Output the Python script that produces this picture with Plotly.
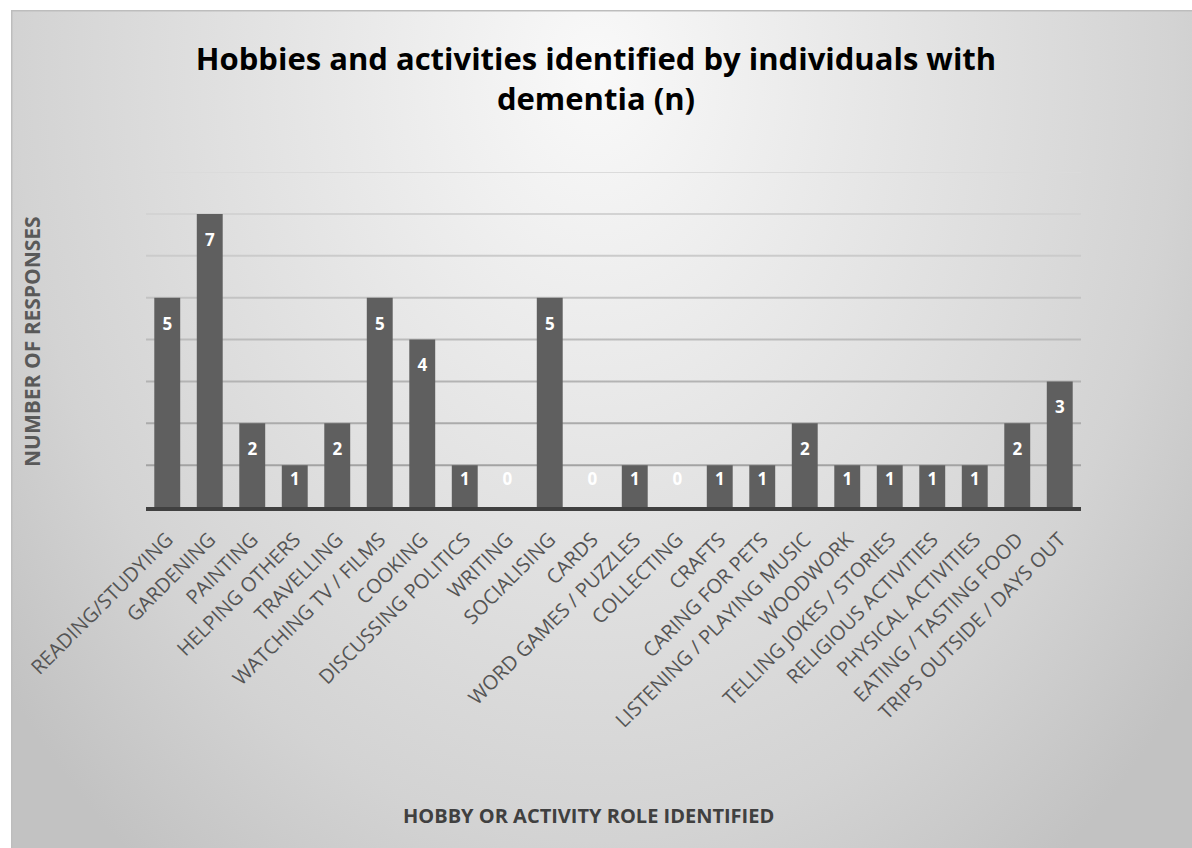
import base64
import plotly.graph_objects as go

# Hobby / activity categories and number of responses
categories = [
    "READING/STUDYING", "GARDENING", "PAINTING", "HELPING OTHERS", "TRAVELLING",
    "WATCHING TV / FILMS", "COOKING", "DISCUSSING POLITICS", "WRITING", "SOCIALISING",
    "CARDS", "WORD GAMES / PUZZLES", "COLLECTING", "CRAFTS", "CARING FOR PETS",
    "LISTENING / PLAYING MUSIC", "WOODWORK", "TELLING JOKES / STORIES",
    "RELIGIOUS ACTIVITIES", "PHYSICAL ACTIVITIES", "EATING / TASTING FOOD",
    "TRIPS OUTSIDE / DAYS OUT",
]
responses = [5, 7, 2, 1, 2, 5, 4, 1, 0, 5, 0, 1, 0, 1, 1, 2, 1, 1, 1, 1, 2, 3]
grid_levels = [1, 2, 3, 4, 5, 6, 7, 8]

W, H = 1192, 848
ML, MR, MT, MB = 146, 111, 172, 341
PW, PH = W - ML - MR, H - MT - MB

FONT = "Open Sans"
BAR = "#5f5f5f"

# soft radial grey background for the chart card
svg = f"""<svg xmlns='http://www.w3.org/2000/svg' width='{W-11}' height='{H-10}'>
<defs><radialGradient id='g' gradientUnits='userSpaceOnUse' cx='585' cy='60' r='1000'
gradientTransform='translate(585 60) scale(0.75 1) translate(-585 -60)'>
<stop offset='0' stop-color='#f9f9f9'/><stop offset='0.3' stop-color='#eaeaea'/>
<stop offset='0.77' stop-color='#d3d3d3'/><stop offset='1' stop-color='#c2c2c2'/>
</radialGradient></defs>
<rect x='0' y='0' width='{W-11}' height='{H-10}' fill='url(#g)'/>
<line x1='0.75' y1='0' x2='0.75' y2='{H-10}' stroke='#bdbdbd' stroke-width='1.5'/>
<line x1='0' y1='0.75' x2='{W-11}' y2='0.75' stroke='#bdbdbd' stroke-width='1.5'/>
</svg>"""
bg_src = "data:image/svg+xml;base64," + base64.b64encode(svg.encode()).decode()

fig = go.Figure()

fig.add_trace(go.Bar(
    x=categories, y=responses,
    marker=dict(color=BAR, line=dict(width=0)),
    hoverinfo="x+y", showlegend=False,
))

# value labels just inside the top of each bar (kept inside short bars)
label_y = [max(v - 0.66, 0.62) for v in responses]
fig.add_trace(go.Scatter(
    x=categories, y=label_y, mode="text",
    text=[str(v) for v in responses],
    textfont=dict(family=FONT, size=17, color="white", weight="bold"),
    hoverinfo="skip", showlegend=False, cliponaxis=False,
))

# horizontal gridlines, darkening towards the baseline
shapes = []
for lvl in grid_levels:
    t = (lvl - 1) / (len(grid_levels) - 1)
    c = int(0xa3 + t * (0xdb - 0xa3))
    shapes.append(dict(
        type="line", xref="paper", yref="y", x0=0, x1=1, y0=lvl, y1=lvl,
        line=dict(color=f"rgb({c},{c},{c})", width=2), layer="below",
    ))

fig.update_layout(
    width=W, height=H,
    margin=dict(l=ML, r=MR, t=MT, b=MB, autoexpand=False),
    paper_bgcolor="white", plot_bgcolor="rgba(0,0,0,0)",
    bargap=0.39,
    title=dict(
        text="Hobbies and activities identified by individuals with<br>dementia (n)",
        x=0.5, xref="container", xanchor="center",
        y=1 - 70 / H, yref="container", yanchor="top",
        font=dict(family=FONT, size=31, color="black", weight="bold"),
    ),
    images=[dict(
        source=bg_src, xref="paper", yref="paper",
        x=(11 - ML) / PW, y=1 + (MT - 10) / PH,
        sizex=(W - 11) / PW, sizey=(H - 10) / PH,
        xanchor="left", yanchor="top", sizing="stretch", layer="below",
    )],
    shapes=shapes,
    xaxis=dict(
        range=[-0.5, len(categories) - 0.5],
        showgrid=False, showline=True, linecolor="#404040", linewidth=4,
        tickangle=-45, ticks="", ticklabelstandoff=9,
        tickfont=dict(family=FONT, size=20, color="#555555"),
        fixedrange=True,
    ),
    yaxis=dict(
        range=[0, 8], showgrid=False, zeroline=False, showticklabels=False,
        fixedrange=True,
    ),
    annotations=[
        dict(text="NUMBER OF RESPONSES", xref="paper", yref="paper",
             x=(32 - ML) / PW, y=(H - MB - 342) / PH, textangle=-90,
             showarrow=False, xanchor="center", yanchor="middle",
             font=dict(family=FONT, size=21, color="#595959", weight="bold")),
        dict(text="HOBBY OR ACTIVITY ROLE IDENTIFIED", xref="paper", yref="paper",
             x=(588 - ML) / PW, y=(H - MB - 815) / PH,
             showarrow=False, xanchor="center", yanchor="middle",
             font=dict(family=FONT, size=20, color="#404040", weight="bold")),
    ],
)

fig.write_html("out.html")
